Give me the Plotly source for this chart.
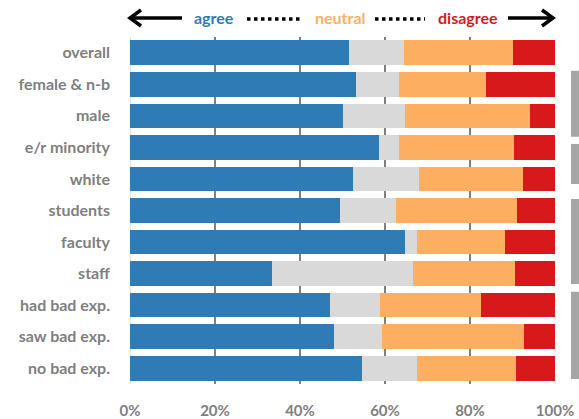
import plotly.graph_objects as go

categories = ["overall", "female & n-b", "male", "e/r minority", "white", "students",
              "faculty", "staff", "had bad exp.", "saw bad exp.", "no bad exp."]
agree = [51.5, 53.1, 50.0, 58.6, 52.5, 49.3, 64.7, 33.3, 47.0, 48.1, 54.6]
other = [12.9, 10.2, 14.7, 4.8, 15.5, 13.2, 2.9, 33.4, 11.8, 11.2, 12.9]
neutral = [25.8, 20.5, 29.3, 27.0, 24.4, 28.5, 20.7, 23.8, 23.7, 33.3, 23.3]
disagree = [9.8, 16.2, 6.0, 9.6, 7.6, 9.0, 11.7, 9.5, 17.5, 7.4, 9.2]
x_ticks = [0, 20, 40, 60, 80, 100]
x_tick_labels = ["0%", "20%", "40%", "60%", "80%", "100%"]

colors = ["#2E7BB6", "#D9D9D9", "#FDAE61", "#D7191C"]
W, H = 579, 419
L, R, T, B = 130, 24, 37, 35
PW, PH = W - L - R, H - T - B


def px(x):
    return (x - L) / PW


def py(y):
    return (H - B - y) / PH


fig = go.Figure()
for vals, c in zip([agree, other, neutral, disagree], colors):
    fig.add_trace(go.Bar(y=categories, x=vals, orientation="h",
                         marker=dict(color=c, line=dict(width=0)),
                         hoverinfo="skip", showlegend=False))

shapes = []
# zero line light gray
shapes.append(dict(type="line", xref="x", yref="paper", x0=0, x1=0, y0=0, y1=1,
                   line=dict(color="#D9D9D9", width=1.5), layer="below"))
# header arrows
blk = dict(color="black", width=3.5)
shapes.append(dict(type="line", xref="paper", yref="paper", x0=px(130), x1=px(182),
                   y0=py(18), y1=py(18), line=blk))
shapes.append(dict(type="path", xref="paper", yref="paper",
                   path=f"M {px(141)},{py(10)} L {px(130)},{py(18)} L {px(141)},{py(26)}",
                   line=blk))
shapes.append(dict(type="line", xref="paper", yref="paper", x0=px(508), x1=px(553),
                   y0=py(18), y1=py(18), line=blk))
shapes.append(dict(type="path", xref="paper", yref="paper",
                   path=f"M {px(542)},{py(10)} L {px(553)},{py(18)} L {px(542)},{py(26)}",
                   line=blk))
dot = dict(color="black", width=3.5, dash="dot")
shapes.append(dict(type="line", xref="paper", yref="paper", x0=px(247), x1=px(301),
                   y0=py(19), y1=py(19), line=dot))
shapes.append(dict(type="line", xref="paper", yref="paper", x0=px(375), x1=px(425),
                   y0=py(19), y1=py(19), line=dot))
# right-side gray group boxes (cut off at the edge)
for y0, y1 in [(70.7, 136.7), (144, 184), (199, 284), (291.7, 379)]:
    shapes.append(dict(type="rect", xref="paper", yref="paper", x0=px(571), x1=px(590),
                       y0=py(y1), y1=py(y0), fillcolor="#A6A6A6", line=dict(width=0)))

annots = []
for txt, cx, col in [("agree", 213.5, "#2E7BB6"), ("neutral", 340, "#FDAE61"),
                     ("disagree", 467.5, "#D7191C")]:
    annots.append(dict(text=txt, xref="paper", yref="paper", x=px(cx), y=py(17),
                       showarrow=False, xanchor="center", yanchor="middle",
                       font=dict(family="Lato", size=16, color=col, weight=700)))

fig.update_layout(
    width=W, height=H, margin=dict(l=L, r=R, t=T, b=B, autoexpand=False),
    barmode="stack", bargap=0.22,
    plot_bgcolor="white", paper_bgcolor="white",
    shapes=shapes, annotations=annots,
    xaxis=dict(range=[0, 100], tickvals=x_ticks, ticktext=x_tick_labels,
               showgrid=True, gridcolor="#808080", gridwidth=2, zeroline=False,
               showline=False, ticks="", ticklabelstandoff=16, automargin=False,
               tickfont=dict(family="Lato", size=15, color="#7F7F7F", weight=700)),
    yaxis=dict(categoryorder="array", categoryarray=categories, autorange="reversed",
               showgrid=False, zeroline=False, showline=False, ticks="",
               ticklabelstandoff=19, automargin=False,
               tickfont=dict(family="Lato", size=16, color="#7F7F7F", weight=700)),
)
fig.write_html("out.html", config={"displayModeBar": False},
               post_script="document.body.style.margin='0';document.body.style.overflow='hidden';")
